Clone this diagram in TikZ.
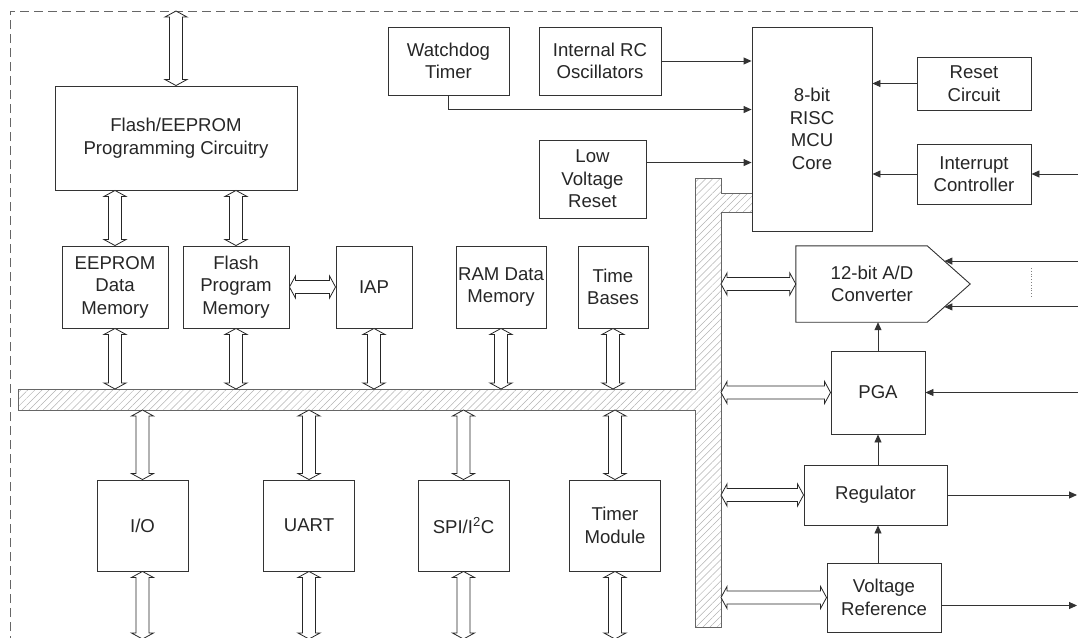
\documentclass[tikz,border=0pt]{standalone}
\usepackage{fontspec}
\setmainfont{Liberation Sans}
\usetikzlibrary{arrows.meta,calc,patterns.meta}

\begin{document}
\begin{tikzpicture}[x=1pt, y=-1pt, every node/.style={font=\fontsize{18.6}{22.5}\selectfont, text=black!85}, box/.style n args={2}{draw=black!80, line width=0.9pt, align=center, inner sep=0pt, minimum width=#1pt, minimum height=#2pt}, edge/.style={draw=black!80, line width=0.9pt}, arr/.style={-{Triangle[length=8pt,width=7pt]}, draw=black!80, line width=0.9pt}, dbl/.style={draw=black!85, fill=white, line width=0.8pt, to path={let \p1=(\tikztostart), \p2=(\tikztotarget), \n1={atan2(\y2-\y1,\x2-\x1)}, \n2={veclen(\x2-\x1,\y2-\y1)} in {[shift={(\p1)}, rotate=\n1] (0pt,0pt) -- (6pt,11pt) -- (6pt,6.5pt) -- ({\n2*1pt-6pt},6.5pt) -- ({\n2*1pt-6pt},11pt) -- ({\n2*1pt},0pt) -- ({\n2*1pt-6pt},-11pt) -- ({\n2*1pt-6pt},-6.5pt) -- (6pt,-6.5pt) -- (6pt,-11pt) -- cycle}}}]
\useasboundingbox (0,0) rectangle (1078,637);
% chip outline and internal bus
\draw[draw=black!60, line width=0.8pt, dash pattern=on 9pt off 5pt] (10,645) -- (10,11) -- (1085,11);
\draw[draw=black!60, line width=0.9pt, pattern={Lines[angle=45,distance=5pt,line width=0.5pt]}, pattern color=black!30] (18,389) -- (695,389) -- (695,178) -- (721,178) -- (721,193) -- (752,193) -- (752,212) -- (721,212) -- (721,627) -- (695,627) -- (695,410) -- (18,410) -- cycle;
\coordinate (top) at (0,11);
\coordinate (hbusT) at (0,389);
\coordinate (hbusB) at (0,410);
\coordinate (vbusR) at (721,0);
\coordinate (bot) at (0,639);
\coordinate (rim) at (1078,0);
\coordinate (rimout) at (1077,0);
% memories and peripherals
\node[box={242}{104}] (fpc) at (176,138) {Flash/EEPROM\\Programming Circuitry};
\node[box={106}{82}] (eeprom) at (115,287) {EEPROM\\Data\\Memory};
\node[box={106}{82}] (pmem) at (236,287) {Flash\\Program\\Memory};
\node[box={76}{82}] (iap) at (374,287) {IAP};
\node[box={90}{82}] (ram) at (501,287) {RAM Data\\Memory};
\node[box={70}{82}] (tbase) at (613,287) {Time\\Bases};
\node[box={91}{91}] (io) at (142.5,525.5) {I/O};
\node[box={91}{91}] (uart) at (309,525.5) {UART};
\node[box={91}{91}] (spi) at (463.5,525.5) {SPI/I\textsuperscript{2}C};
\node[box={91}{91}] (timer) at (615,525.5) {Timer\\Module};
% core side
\node[box={121}{68}] (wdt) at (448.5,61) {Watchdog\\Timer};
\node[box={122}{68}] (irc) at (600,61) {Internal RC\\Oscillators};
\node[box={107}{78}] (lvr) at (592.5,179) {Low\\Voltage\\Reset};
\node[box={120}{204}] (core) at (812,129) {8-bit\\RISC\\MCU\\Core};
\node[box={114}{53}] (rst) at (974,83.5) {Reset\\Circuit};
\node[box={114}{60}] (intc) at (974,174) {Interrupt\\Controller};
\node[minimum width=131pt, minimum height=76pt, inner sep=0pt] (adc) at (861.5,284) {};
\coordinate (adctip) at ([xshift=43pt]adc.east);
\draw[edge] (adc.north west) -- (adc.north east) -- (adctip) -- (adc.south east) -- (adc.south west) -- cycle;
\node[align=center] (adclbl) at ($(adc)+(10.5,0)$) {12-bit A/D\\Converter};
\node[box={94}{83}] (pga) at (878,392.5) {PGA};
\node[box={143}{60}] (reg) at (875.5,495) {Regulator};
\node[box={114}{69}] (vref) at (884,597.5) {Voltage\\Reference};
% bus connections
\draw[dbl] (fpc.north) to (fpc.north |- top);
\draw[dbl] (eeprom.north) to (eeprom.north |- fpc.south);
\draw[dbl] (pmem.north) to (pmem.north |- fpc.south);
\draw[dbl] (pmem.east) to (iap.west);
\foreach \b in {eeprom,pmem,iap,ram,tbase} \draw[dbl] (\b.south) to (\b.south |- hbusT);
\foreach \b in {io,uart,spi,timer} {\draw[dbl] (\b.north) to (\b.north |- hbusB); \draw[dbl] (\b.south) to (\b.south |- bot);}
\foreach \b in {adc,pga,reg,vref} \draw[dbl] (vbusR |- \b.west) to (\b.west);
% signals
\coordinate (wdtin) at ([yshift=-83pt]core.north west);
\coordinate (lvrout) at ([yshift=-23pt]lvr.north east);
\coordinate (adcin1) at ($(adc.north east)!0.4!(adctip)$);
\coordinate (adcin2) at ($(adc.south east)!0.4!(adctip)$);
\coordinate (vrefout) at ([yshift=-8pt]vref.east);
\draw[arr] (irc.east) -- (irc.east -| core.west);
\draw[arr] (wdt.south) |- (wdtin);
\draw[arr] (lvrout) -- (lvrout -| core.west);
\draw[arr] (rst.west) -- (rst.west -| core.east);
\draw[arr] (intc.west) -- (intc.west -| core.east);
\draw[arr] (rim |- intc.east) -- (intc.east);
\draw[arr] (rim |- adcin1) -- (adcin1);
\draw[arr] (rim |- adcin2) -- (adcin2);
\draw[black!50, line width=0.8pt, dotted] (1031,268) -- (1031,298);
\draw[arr] (pga.north) -- (pga.north |- adc.south);
\draw[arr] (rim |- pga.east) -- (pga.east);
\draw[arr] (pga.south |- reg.north) -- (pga.south);
\draw[arr] (reg.east) -- (rimout |- reg.east);
\draw[arr] (pga.south |- vref.north) -- (pga.south |- reg.south);
\draw[arr] (vrefout) -- (rimout |- vrefout);
\end{tikzpicture}
\end{document}
